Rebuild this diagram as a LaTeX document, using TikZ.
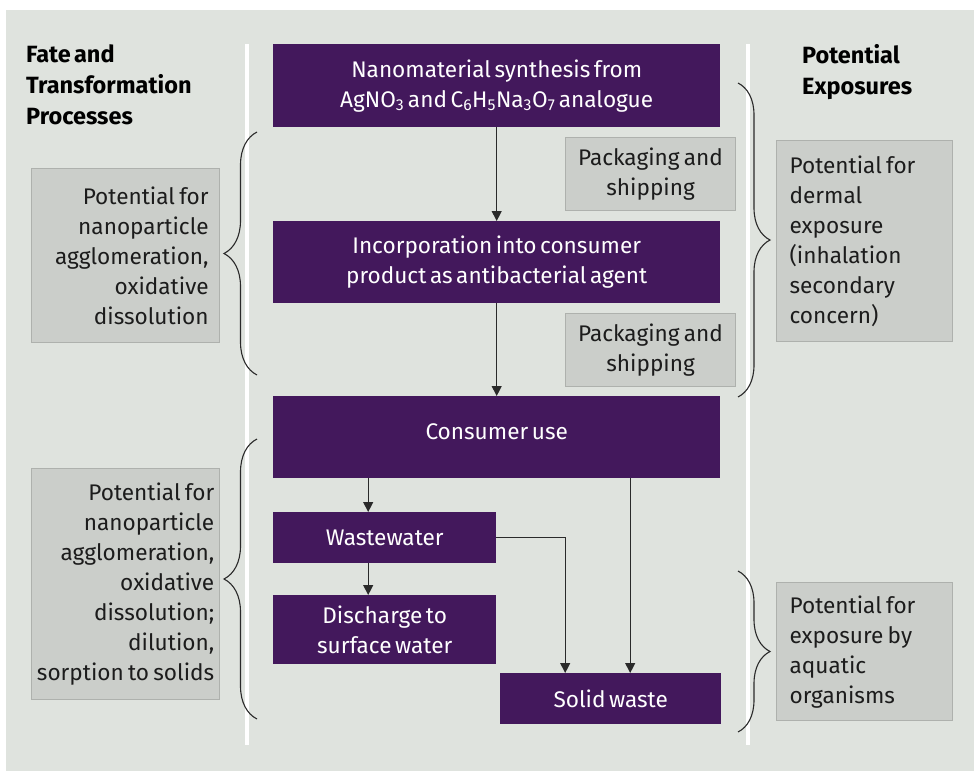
\documentclass[tikz,border=0pt]{standalone}
\usepackage{fontspec}
\setmainfont{Fira Sans}[WordSpace=0.6]
\usetikzlibrary{arrows.meta,decorations.pathreplacing}

\definecolor{panelbg}{HTML}{DFE3DE}
\definecolor{stagepurple}{HTML}{43185C}
\definecolor{notefill}{HTML}{CBCECA}
\definecolor{noteedge}{HTML}{AEB1AD}
\definecolor{inkdark}{HTML}{1C1C1C}
\definecolor{linkdark}{HTML}{2A2A2A}

\tikzset{
  stage/.style={fill=stagepurple, draw=none, text=white, inner sep=0pt,
    anchor=north west, align=center},
  note/.style={fill=notefill, draw=noteedge, line width=1.2pt, text=inkdark,
    anchor=north west, inner ysep=0pt,
    execute at begin node={\spaceskip=0.19em\relax}},
  flow/.style={draw=linkdark, line width=1.1pt,
    -{Triangle[width=10pt,length=10pt]}},
  bracket/.style={draw=linkdark, line width=1.1pt, decorate,
    decoration={brace, amplitude=#1}},
  divider/.style={draw=white, line width=4pt},
  heading/.style={font=\fontsize{23.5}{31}\selectfont\bfseries, text=black,
    inner sep=0pt, anchor=north west, align=left}
}

\begin{document}
\begin{tikzpicture}[x=1pt, y=-1pt, font=\fontsize{22.6}{30}\selectfont]
\useasboundingbox (0,0) rectangle (974,771);
\fill[white] (0,0) rectangle (974,771);
\fill[panelbg] (6,10) rectangle (974,771);

% column dividers
\draw[divider] (247,44) -- (247,745);
\draw[divider] (748,44) -- (748,745);

% column headings
\node[heading] (hfate) at (26,44) {Fate and\\Transformation\\Processes};
\node[heading] (hexpo) at (802,44) {Potential\\Exposures};

% life-cycle stages
\node[stage, minimum width=447pt, minimum height=83pt] (syn) at (273,44)
  {Nanomaterial synthesis from\\AgNO\textsubscript{3} and C\textsubscript{6}H\textsubscript{5}Na\textsubscript{3}O\textsubscript{7} analogue};
\node[stage, minimum width=447pt, minimum height=82pt] (inc) at (273,221)
  {Incorporation into consumer\\product as antibacterial agent};
\node[stage, minimum width=447pt, minimum height=82pt, text depth=12pt] (use) at (273,396)
  {Consumer use};
\node[stage, minimum width=223pt, minimum height=51pt] (ww) at (273,512)
  {Wastewater};
\node[stage, minimum width=223pt, minimum height=69pt] (dis) at (273,595)
  {Discharge to\\surface water};
\node[stage, minimum width=221pt, minimum height=51pt] (sw) at (500,673)
  {Solid waste};

% packaging notes
\node[note, minimum width=170pt, minimum height=73pt, text width=160pt, inner xsep=5pt, align=center] (pk1) at (565,137)
  {\mbox{Packaging and}\\shipping};
\node[note, minimum width=170pt, minimum height=73pt, text width=160pt, inner xsep=5pt, align=center] (pk2) at (565,313)
  {\mbox{Packaging and}\\shipping};

% exposure notes
\node[note, minimum width=176pt, minimum height=201pt, text width=150pt, inner xsep=13pt, align=left] (ex1) at (776,140)
  {\mbox{Potential for}\\dermal\\exposure\\(inhalation\\secondary\\concern)};
\node[note, minimum width=176pt, minimum height=138pt, text width=150pt, inner xsep=13pt, align=left] (ex2) at (776,582)
  {\mbox{Potential for}\\\mbox{exposure by}\\aquatic\\organisms};

% fate notes
\node[note, minimum width=188pt, minimum height=174pt, text width=166pt, inner xsep=11pt, align=right] (fa1) at (31,168)
  {\mbox{Potential for}\\nanoparticle\\agglomeration,\\oxidative\\dissolution};
\node[note, minimum width=188pt, minimum height=231pt, inner xsep=2pt, align=right] (fa2) at (31,468)
  {Potential for\\nanoparticle\\agglomeration,\\oxidative\\dissolution;\\dilution,\\sorption to solids};

% flows
\draw[flow] (syn.south) -- (inc.north);
\draw[flow] (inc.south) -- (use.north);
\draw[flow] ([xshift=-16.5pt]ww.north |- use.south) -- ([xshift=-16.5pt]ww.north);
\draw[flow] ([xshift=-16.5pt]ww.south) -- ([xshift=-16.5pt]dis.north);
\draw[flow] (ww.east) -| ([xshift=-45.5pt]sw.north);
\draw[flow] ([xshift=19.5pt]sw.north |- use.south) -- ([xshift=19.5pt]sw.north);

% brace end points
\coordinate (bl1top) at (257,132);
\coordinate (bl1bot) at (257,375);
\coordinate (bl2top) at (257,439);
\coordinate (bl2bot) at (257,719);
\coordinate (br1top) at (738,83);
\coordinate (br1bot) at (738,397);
\coordinate (br2top) at (738,571);
\coordinate (br2bot) at (738,732);

\draw[bracket=33pt] (bl1bot) -- (bl1top);
\draw[bracket=33pt] (bl2bot) -- (bl2top);
\draw[bracket=32pt] (br1top) -- (br1bot);
\draw[bracket=32pt] (br2top) -- (br2bot);
\end{tikzpicture}
\end{document}
